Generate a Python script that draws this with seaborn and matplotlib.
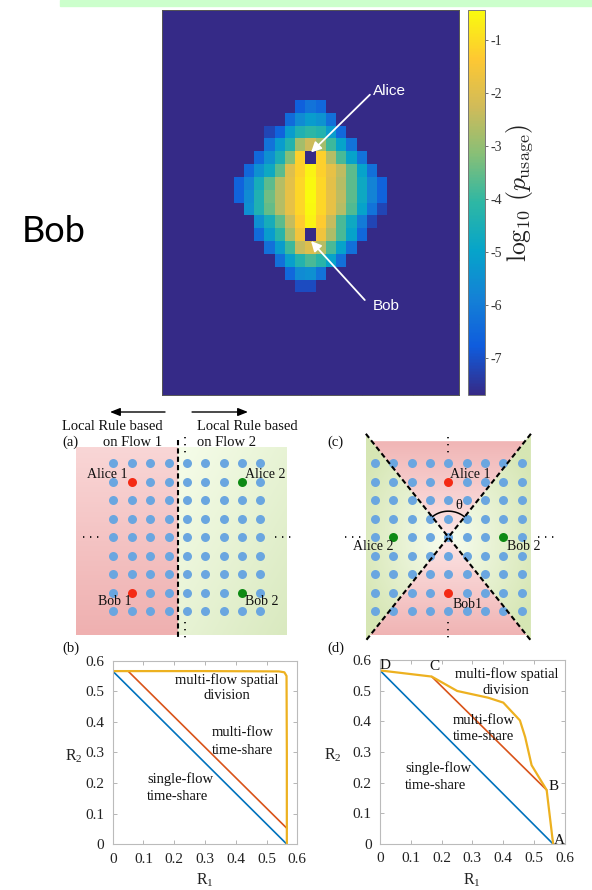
import numpy as np
import matplotlib
matplotlib.use("Agg")
import matplotlib.pyplot as plt
import seaborn as sns
from matplotlib.colors import LinearSegmentedColormap, to_rgb
from matplotlib.patches import Polygon, Rectangle

# -------------------------------
# DATA: usage heatmap (log10 p_usage)
# -------------------------------
GRID_ROWS, GRID_COLS = 30, 29
BG_LEVEL = -7.7
TOP_LEVEL = -0.43
CBAR_TICKS = [-1, -2, -3, -4, -5, -6, -7]

DIAMOND_FIRST_ROW = 7
DIAMOND_START_COL = [13, 12, 10, 10, 9, 8, 7, 7, 8, 9, 9, 10, 11, 12, 13]
DIAMOND_VALUES = [
    [-6.7, -6.2, -6.5],
    [-6.4, -5.6, -5.2, -5.4, -6.3],
    [-7.2, -6.6, -5.2, -4.4, -4.1, -4.3, -5.2, -6.5],
    [-6.2, -5.2, -4.3, -2.8, -2.3, -2.8, -3.9, -5.0, -6.2],
    [-6.5, -5.5, -4.5, -3.2, -1.2, None, -1.2, -2.6, -3.8, -5.0, -6.2],
    [-6.5, -5.5, -4.8, -3.6, -2.0, -1.2, -0.6, -1.2, -1.8, -2.5, -3.6, -5.0, -6.3],
    [-6.6, -5.8, -4.6, -3.6, -2.6, -1.9, -1.1, -0.5, -1.1, -1.9, -2.6, -3.6, -4.8, -5.8, -6.6],
    [-6.6, -5.6, -4.4, -3.4, -2.6, -1.8, -1.1, -0.45, -1.1, -1.8, -2.5, -3.6, -4.8, -5.8, -6.6],
    [-5.5, -4.4, -3.5, -2.6, -1.8, -1.1, -0.5, -1.1, -1.8, -2.6, -3.7, -5.0, -6.2, -7.2],
    [-5.5, -4.6, -3.6, -2.4, -1.3, -0.6, -1.3, -2.4, -3.8, -4.8, -6.0, -7.2],
    [-6.4, -5.2, -4.2, -2.8, -1.6, None, -1.6, -2.7, -3.8, -5.0, -6.5],
    [-6.3, -5.2, -3.9, -2.4, -2.0, -2.6, -3.8, -5.0, -6.3],
    [-6.3, -5.1, -4.3, -3.8, -4.2, -5.0, -6.3],
    [-6.5, -5.6, -5.5, -6.2],
    [-7.1, -7.1],
]

# -------------------------------
# DATA: lattice diagrams (a) and (c)
# -------------------------------
N_NODES = 9
a_red_nodes = [(1, 1), (1, 7)]      # (col, row): Alice 1, Bob 1
a_green_nodes = [(7, 1), (7, 7)]    # Alice 2, Bob 2
c_red_nodes = [(4, 1), (4, 7)]
c_green_nodes = [(1, 4), (7, 4)]

# -------------------------------
# DATA: rate regions (b) and (d)
# -------------------------------
R_TICKS = [0, 0.1, 0.2, 0.3, 0.4, 0.5, 0.6]
R_TICK_LABELS = ["0", "0.1", "0.2", "0.3", "0.4", "0.5", "0.6"]

b_single_r1 = [0.0, 0.566]
b_single_r2 = [0.566, 0.0]
b_multi_r1 = [0.05, 0.566]
b_multi_r2 = [0.566, 0.052]
b_spatial_r1 = [0.0, 0.30, 0.54, 0.558, 0.565, 0.566, 0.566]
b_spatial_r2 = [0.566, 0.566, 0.565, 0.562, 0.55, 0.30, 0.0]

d_single_r1 = [0.0, 0.563]
d_single_r2 = [0.566, 0.0]
d_multi_r1 = [0.168, 0.542]
d_multi_r2 = [0.546, 0.176]
d_spatial_r1 = [0.0, 0.168, 0.251, 0.352, 0.401, 0.455, 0.472, 0.493, 0.542, 0.563]
d_spatial_r2 = [0.566, 0.546, 0.499, 0.477, 0.461, 0.403, 0.349, 0.257, 0.176, 0.0]

# -------------------------------
# STYLE
# -------------------------------
sns.set_style("white")
plt.rcParams["font.family"] = ["Liberation Serif", "DejaVu Serif"]
plt.rcParams["mathtext.fontset"] = "cm"

SANS = ["Liberation Sans", "DejaVu Sans"]
BLUE, ORANGE, YELLOW = "#0072BD", "#D95319", "#EDB120"
NODE_BLUE, NODE_RED, NODE_GREEN = "#6aa6e0", "#f42a14", "#0e8a14"

parula = LinearSegmentedColormap.from_list(
    "parula", ["#352a87", "#0f5cdd", "#1481d6", "#06a4ca", "#2eb7a4",
               "#87bf77", "#d1bb59", "#fec832", "#f9fb0e"])

W, H = 592, 890
fig = plt.figure(figsize=(W / 100, H / 100), dpi=100)


def px_axes(x0, y0, x1, y1):
    return fig.add_axes([x0 / W, 1 - y1 / H, (x1 - x0) / W, (y1 - y0) / H])


def mix(c0, c1, t):
    c0, c1 = np.array(to_rgb(c0)), np.array(to_rgb(c1))
    t = np.clip(t, 0, 1)[..., None]
    return c0 + (c1 - c0) * t


def gradient_fill(ax, verts, color_fn):
    verts = np.asarray(verts, dtype=float)
    x0, y0 = verts.min(axis=0)
    x1, y1 = verts.max(axis=0)
    X, Y = np.meshgrid(np.linspace(x0, x1, 90), np.linspace(y0, y1, 90))
    im = ax.imshow(color_fn(X, Y), extent=(x0, x1, y0, y1), origin="lower",
                   aspect="auto", interpolation="bilinear", zorder=0)
    poly = Polygon(verts, closed=True, facecolor="none", edgecolor="none",
                   transform=ax.transData)
    ax.add_patch(poly)
    im.set_clip_path(poly)


# top strip
fig.patches.append(Rectangle((60 / W, 1 - 5.7 / H), 532 / W, 5.7 / H,
                             transform=fig.transFigure, color="#ccffcc", zorder=0))
fig.text(22 / W, 1 - 242 / H, "Bob", family=["Lato", "DejaVu Sans"],
         fontsize=26, va="baseline", color="black")

# ================================
# HEATMAP
# ================================
mat = np.full((GRID_ROWS, GRID_COLS), BG_LEVEL)
for i, (c0, vals) in enumerate(zip(DIAMOND_START_COL, DIAMOND_VALUES)):
    for j, v in enumerate(vals):
        mat[DIAMOND_FIRST_ROW + i, c0 + j] = BG_LEVEL if v is None else v

ax_h = px_axes(162, 10, 459, 395)
cax = px_axes(467.7, 10, 485, 395)
sns.heatmap(mat, ax=ax_h, cbar_ax=cax, cmap=parula, vmin=BG_LEVEL, vmax=TOP_LEVEL,
            xticklabels=False, yticklabels=False)
ax_h.set_xticks(np.arange(5, GRID_COLS, 5) - 0.5)
ax_h.set_yticks(np.arange(5, GRID_ROWS, 5) - 0.5)
ax_h.tick_params(direction="in", length=3, width=0.6, color="#333333",
                 top=True, right=True, bottom=True, left=True,
                 labelbottom=False, labelleft=False)
for s in ax_h.spines.values():
    s.set_visible(True)
    s.set_color("#555555")
    s.set_linewidth(0.7)

cbar = ax_h.collections[0].colorbar
cbar.set_ticks(CBAR_TICKS)
cbar.set_ticklabels([str(t) for t in CBAR_TICKS])
cax.tick_params(labelsize=10, length=2, width=0.6, color="#555555", pad=2,
                labelcolor="#333333")
cbar.outline.set_edgecolor("#777777")
cbar.outline.set_linewidth(0.7)
fig.text(519.5 / W, 1 - 193.3 / H, r"$\log_{10}\,(p_{\rm usage})$", rotation=90,
         ha="center", va="center", fontsize=18.5, color="#222222")

arrow_white = dict(arrowstyle="-|>,head_length=0.5,head_width=0.25", color="white",
                   lw=1.3, shrinkA=0, shrinkB=0, mutation_scale=12)
ax_h.text(20.6, 6.35, "Alice", color="white", family=SANS, fontsize=11, va="center")
ax_h.annotate("", xy=(14.55, 11.1), xytext=(20.3, 6.6), arrowprops=arrow_white)
ax_h.text(20.6, 23.03, "Bob", color="white", family=SANS, fontsize=11, va="center")
ax_h.annotate("", xy=(14.55, 18.0), xytext=(19.8, 22.6), arrowprops=arrow_white)


# ================================
# LATTICE DIAGRAMS
# ================================
def draw_nodes(ax, red, green):
    special = set(red) | set(green)
    pts = [(c, r) for r in range(N_NODES) for c in range(N_NODES) if (c, r) not in special]
    for group, color in [(pts, NODE_BLUE), (red, NODE_RED), (green, NODE_GREEN)]:
        sns.scatterplot(x=[p[0] for p in group], y=[p[1] for p in group], ax=ax,
                        color=color, s=42, linewidth=0, zorder=3, legend=False)


dash = dict(color="black", lw=1.5, ls=(0, (2.5, 1.5)), zorder=4)
dots = dict(color="black", lw=1.2, ls=(0, (0.8, 3.4)), zorder=4)
txt = dict(fontsize=10, color="#111111", va="center", zorder=5)
arrow_black = dict(arrowstyle="-|>,head_length=0.5,head_width=0.2", color="black",
                   lw=1.0, shrinkA=0, shrinkB=0, mutation_scale=12)

# ---- (a) ----
ax_a = px_axes(60, 400, 300, 645)
gradient_fill(ax_a, [(-2.03, -0.88), (3.5, -0.88), (3.5, 9.3), (-2.03, 9.3)],
              lambda X, Y: mix("#f9d6d6", "#efb0b0", (Y + 0.88) / 10.2))
gradient_fill(ax_a, [(3.5, -0.88), (9.44, -0.88), (9.44, 9.3), (3.5, 9.3)],
              lambda X, Y: mix("#f6fdea", "#d9e9bf",
                               0.5 * ((X - 3.5) / 5.94 + (Y + 0.88) / 10.2)))
draw_nodes(ax_a, a_red_nodes, a_green_nodes)
ax_a.plot([3.5, 3.5], [-1.26, 9.57], **dash)
ax_a.plot([3.9, 3.9], [-1.42, -0.45], **dots)
ax_a.plot([3.9, 3.9], [8.6, 9.57], **dots)
ax_a.plot([-1.65, -0.56], [4, 4], **dots)
ax_a.plot([8.78, 9.77], [4, 4], **dots)
ax_a.annotate("", xy=(-0.18, -2.78), xytext=(2.81, -2.78), arrowprops=arrow_black)
ax_a.annotate("", xy=(7.32, -2.78), xytext=(4.28, -2.78), arrowprops=arrow_black)
ax_a.text(2.7, -2.02, "Local Rule based", ha="right", **dict(txt, fontsize=10.5))
ax_a.text(2.65, -1.15, "on Flow 1", ha="right", **dict(txt, fontsize=10.5))
ax_a.text(-2.79, -1.15, "(a)", ha="left", **dict(txt, fontsize=10.5))
ax_a.text(4.55, -2.02, "Local Rule based", ha="left", **dict(txt, fontsize=10.5))
ax_a.text(4.55, -1.15, "on Flow 2", ha="left", **dict(txt, fontsize=10.5))
ax_a.text(0.75, 0.58, "Alice 1", ha="right", **txt)
ax_a.text(7.16, 0.58, "Alice 2", ha="left", **txt)
ax_a.text(0.97, 7.46, "Bob 1", ha="right", **txt)
ax_a.text(7.16, 7.46, "Bob 2", ha="left", **txt)
ax_a.set_xlim(-2.9, 10.15)
ax_a.set_ylim(9.84, -3.43)
ax_a.set_axis_off()

# ---- (c) ----
ax_c = px_axes(320, 400, 592, 645)
cx, cy = 4, 4
green_fn = lambda X, Y: mix("#f8fdf0", "#d6e6b4",
                            np.hypot((X - cx) / 4.5, (Y - cy) / 5.6) / 1.2)
gradient_fill(ax_c, [(-0.5, -1.6), (cx, cy), (-0.5, 9.6)], green_fn)
gradient_fill(ax_c, [(8.5, -1.6), (cx, cy), (8.5, 9.6)], green_fn)
top_dx, bot_dx = 4.5 * 5.2 / 5.6, 4.5 * 5.3 / 5.6
pink_fn = lambda X, Y: mix("#fde6e6", "#f0b4b4", np.abs(Y - cy) / 5.3)
gradient_fill(ax_c, [(cx - top_dx, -1.2), (cx + top_dx, -1.2), (cx, cy)], pink_fn)
gradient_fill(ax_c, [(cx - bot_dx, 9.3), (cx + bot_dx, 9.3), (cx, cy)], pink_fn)
draw_nodes(ax_c, c_red_nodes, c_green_nodes)
ax_c.plot([-0.5, 8.5], [-1.6, 9.6], **dash)
ax_c.plot([8.5, -0.5], [-1.6, 9.6], **dash)
ax_c.plot([cx, cx], [-1.42, -0.45], **dots)
ax_c.plot([cx, cx], [8.6, 9.57], **dots)
ax_c.plot([-1.63, -0.71], [cy, cy], **dots)
ax_c.plot([8.88, 9.81], [cy, cy], **dots)
t = np.radians(np.linspace(52, 128, 40))
ax_c.plot(cx + 1.417 * np.cos(t), cy - 1.408 * np.sin(t), color="black", lw=1.1, zorder=4)
ax_c.text(4.58, 2.3, "θ", ha="center", **dict(txt, fontsize=10.5))
ax_c.text(4.09, 0.58, "Alice 1", ha="left", **txt)
ax_c.text(4.2, 7.62, "Bob1", ha="left", **txt)
ax_c.text(-0.08, 4.53, "Alice 2", ha="center", **txt)
ax_c.text(8.09, 4.53, "Bob 2", ha="center", **txt)
ax_c.text(-2.62, -1.15, "(c)", ha="left", **dict(txt, fontsize=10.5))
ax_c.set_xlim(-3.0, 11.83)
ax_c.set_ylim(9.84, -3.43)
ax_c.set_axis_off()


# ================================
# RATE REGIONS
# ================================
def style_rate_axes(ax, ylab_x):
    ax.set_xlim(0, 0.6)
    ax.set_ylim(0, 0.6)
    ax.set_xticks(R_TICKS)
    ax.set_xticklabels(R_TICK_LABELS)
    ax.set_yticks(R_TICKS)
    ax.set_yticklabels(R_TICK_LABELS)
    ax.tick_params(direction="in", length=3, width=0.6, color="#aaaaaa",
                   top=True, right=True, bottom=True, left=True,
                   labelsize=11, labelcolor="#222222", pad=6)
    for s in ax.spines.values():
        s.set_visible(True)
        s.set_color("#bbbbbb")
        s.set_linewidth(0.8)
    ax.set_xlabel(r"$\mathregular{R_1}$", fontsize=11.5, color="#222222")
    ax.xaxis.set_label_coords(0.5, -0.15)
    ax.set_ylabel(r"$\mathregular{R_2}$", fontsize=11.5, color="#222222",
                  rotation=0, ha="center", va="center")
    ax.yaxis.set_label_coords(ylab_x, 0.48)


def draw_curves(ax, single, multi, spatial):
    sns.lineplot(x=single[0], y=single[1], ax=ax, color=BLUE, lw=1.2,
                 sort=False, estimator=None)
    sns.lineplot(x=multi[0], y=multi[1], ax=ax, color=ORANGE, lw=1.2,
                 sort=False, estimator=None)
    sns.lineplot(x=spatial[0], y=spatial[1], ax=ax, color=YELLOW, lw=1.6,
                 sort=False, estimator=None)


lt = dict(fontsize=10.5, color="#111111", va="center")

# ---- (b) ----
ax_b = px_axes(112.7, 660.7, 297.3, 844.2)
draw_curves(ax_b, (b_single_r1, b_single_r2), (b_multi_r1, b_multi_r2),
            (b_spatial_r1, b_spatial_r2))
style_rate_axes(ax_b, -0.213)
ax_b.text(0.37, 0.538, "multi-flow spatial", ha="center", **lt)
ax_b.text(0.37, 0.487, "division", ha="center", **lt)
ax_b.text(0.322, 0.364, "multi-flow", ha="left", **lt)
ax_b.text(0.322, 0.306, "time-share", ha="left", **lt)
ax_b.text(0.112, 0.214, "single-flow", ha="left", **lt)
ax_b.text(0.112, 0.157, "time-share", ha="left", **lt)
fig.text(62 / W, 1 - 648 / H, "(b)", fontsize=10.5, va="center", color="#111111")

# ---- (d) ----
ax_d = px_axes(380, 660, 564.5, 844)
draw_curves(ax_d, (d_single_r1, d_single_r2), (d_multi_r1, d_multi_r2),
            (d_spatial_r1, d_spatial_r2))
style_rate_axes(ax_d, -0.257)
ax_d.text(0.412, 0.553, "multi-flow spatial", ha="center", **lt)
ax_d.text(0.41, 0.50, "division", ha="center", **lt)
ax_d.text(0.236, 0.402, "multi-flow", ha="left", **lt)
ax_d.text(0.236, 0.349, "time-share", ha="left", **lt)
ax_d.text(0.081, 0.246, "single-flow", ha="left", **lt)
ax_d.text(0.081, 0.192, "time-share", ha="left", **lt)
for label, x, y in [("D", 0.016, 0.582), ("C", 0.176, 0.579),
                    ("B", 0.566, 0.189), ("A", 0.582, 0.01)]:
    ax_d.text(x, y, label, ha="center", fontsize=11, color="#111111",
              va="center", clip_on=False)
fig.text(327 / W, 1 - 648 / H, "(d)", fontsize=10.5, va="center", color="#111111")

fig.savefig("out.png", dpi=100)
